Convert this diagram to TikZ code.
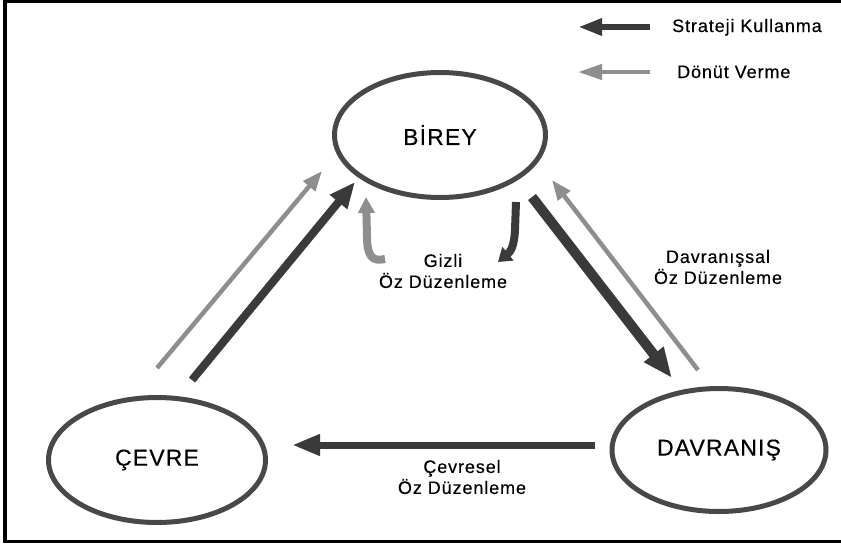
\documentclass[tikz,border=0pt]{standalone}
\usepackage{fontspec}
\setmainfont{Liberation Sans}[LetterSpace=5, FakeBold=0.3]
\usetikzlibrary{shapes.geometric}
\usetikzlibrary{arrows.meta}
\definecolor{strat}{HTML}{3A3A3A}
\definecolor{feed}{HTML}{8E8E8E}
\definecolor{rim}{HTML}{484848}
\tikzset{
    mynode/.style = {ellipse, line width=5pt, draw=rim, align=center, inner sep=0pt, font=\fontsize{23}{27}\selectfont, text=black},
    mylabel/.style = {align=center, inner sep=0pt, font=\fontsize{18}{21}\selectfont, text=black},
    edges/.style = {line width=8pt, strat, -{Triangle[length=26pt,width=21pt]}}, % strateji
    edgef/.style = {line width=4.5pt, feed, -{Triangle[length=20pt,width=15pt]}}, % donut
    frame/.style = {line width=3.5pt, black}
}

\begin{document}
\begin{tikzpicture}[x=1pt, y=-1pt]
\useasboundingbox (0,0) rectangle (841,544);
\draw[frame] (841,1.5) -- (5,1.5) -- (5,541.5) -- (841,541.5);

% ellipses
\node[mynode, minimum width=211pt, minimum height=125pt] (birey) at (440,135) {B\.IREY};
\node[mynode, minimum width=217pt, minimum height=125pt] (cevre) at (157,460) {ÇEVRE};
\node[mynode, minimum width=214pt, minimum height=123pt] (davranis) at (719,450) {DAVRANIŞ};

% labels
\node[mylabel] (gizli) at (443,271) {Gizli\\Öz Düzenleme};
\node[mylabel] (davlab) at (718,267) {Davranışsal\\Öz Düzenleme};
\node[mylabel] (cevlab) at (462,477) {Çevresel\\Öz Düzenleme};

% arrow ends
\coordinate (cb1) at (192,380); \coordinate (cb2) at (355,182);
\coordinate (cf1) at (157,368); \coordinate (cf2) at (322,171);
\coordinate (bd1) at (532,197); \coordinate (bd2) at (672,378);
\coordinate (df1) at (698,370); \coordinate (df2) at (552,180);
\coordinate (dc1) at (595,445); \coordinate (dc2) at (292,445);

\draw[edges] (cb1) -- (cb2);
\draw[edgef] (cf1) -- (cf2);
\draw[edges, line width=10pt, -{Triangle[length=30pt,width=23pt]}] (bd1) -- (bd2);
\draw[edgef] (df1) -- (df2);
\draw[edges, line width=7pt, -{Triangle[length=28pt,width=20pt]}] (dc1) -- (dc2);

% gizli oz duzenleme
\coordinate (gf1) at (385,259); \coordinate (gf2) at (366,197);
\coordinate (gs1) at (516,202); \coordinate (gs2) at (498,262);
\draw[edgef, line width=8pt, -{Triangle[length=16pt,width=16pt]}] (gf1) .. controls (372,262) and (367,256) .. (367,236) -- (gf2);
\draw[edges, -{Triangle[length=13pt,width=17pt]}] (gs1) -- (515,230) .. controls (514,248) and (510,252) .. (gs2);

% legend
\node[mylabel, anchor=base west] (lstrat) at (672,32) {Strateji Kullanma};
\node[mylabel, anchor=base west] (lfeed) at (677,78) {Dönüt Verme};
\coordinate (ls1) at (650,27); \coordinate (ls2) at (578,27);
\coordinate (lf1) at (650,72); \coordinate (lf2) at (578,72);
\draw[edges, line width=6.5pt, -{Triangle[length=24pt,width=16pt]}] (ls1) -- (ls2);
\draw[edgef, -{Triangle[length=24pt,width=15pt]}] (lf1) -- (lf2);
\end{tikzpicture}
\end{document}
